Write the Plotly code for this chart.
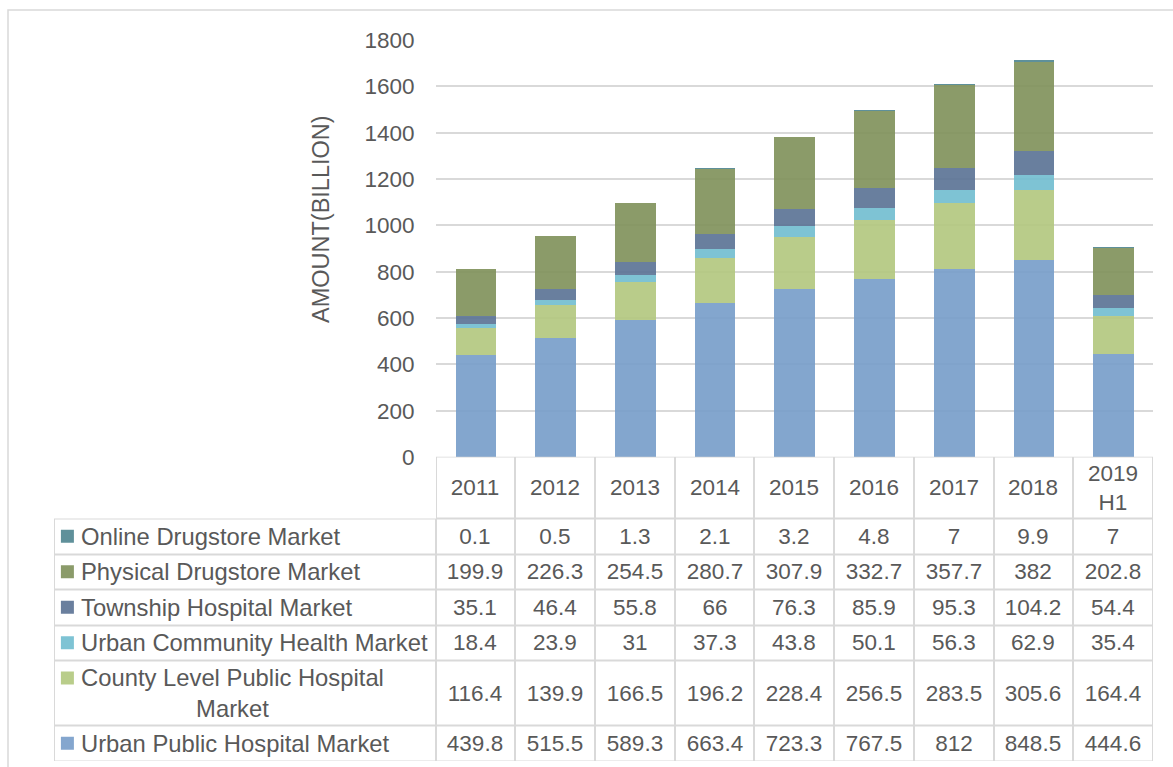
import numpy as np
import plotly.graph_objects as go

# data (billion)
years = ["2011", "2012", "2013", "2014", "2015", "2016", "2017", "2018", "2019 H1"]
year_labels = ["2011", "2012", "2013", "2014", "2015", "2016", "2017", "2018", "2019<br>H1"]

urban_public = [439.8, 515.5, 589.3, 663.4, 723.3, 767.5, 812, 848.5, 444.6]
county_public = [116.4, 139.9, 166.5, 196.2, 228.4, 256.5, 283.5, 305.6, 164.4]
urban_community = [18.4, 23.9, 31, 37.3, 43.8, 50.1, 56.3, 62.9, 35.4]
township = [35.1, 46.4, 55.8, 66, 76.3, 85.9, 95.3, 104.2, 54.4]
physical_drugstore = [199.9, 226.3, 254.5, 280.7, 307.9, 332.7, 357.7, 382, 202.8]
online_drugstore = [0.1, 0.5, 1.3, 2.1, 3.2, 4.8, 7, 9.9, 7]

# stacking order, bottom to top
series = [
    ("Urban Public Hospital Market", urban_public, "#84A6CE", "rgba(118,156,201,0.9)"),
    ("County Level Public Hospital<br>Market", county_public, "#B9CD8A", "rgba(177,199,125,0.9)"),
    ("Urban Community Health Market", urban_community, "#7EC3D4", "rgba(112,188,207,0.9)"),
    ("Township Hospital Market", township, "#6A7F9E", "rgba(89,113,147,0.9)"),
    ("Physical Drugstore Market", physical_drugstore, "#8B9B6A", "rgba(126,144,89,0.9)"),
    ("Online Drugstore Market", online_drugstore, "#5F909A", "rgba(77,132,143,0.9)"),
]

W, H = 1173, 767
TXT = "#595959"
GRID = "#D9D9D9"
FONT = "Liberation Sans, Arial, sans-serif"

fig = go.Figure()

for name, vals, _, fill in series:
    fig.add_trace(go.Bar(
        x=years, y=vals, name=name, width=0.51,
        marker=dict(color=fill, line=dict(width=0)),
        hoverinfo="skip", showlegend=False,
    ))

# ---- data table drawn on its own axes (x2/y2) ----
row_h = [35.5, 65, 35.5, 35.5, 35.5, 35.5, 62]  # bottom -> top, last is header
y_edges = np.concatenate([[0], np.cumsum(row_h)])
y_mid = (y_edges[:-1] + y_edges[1:]) / 2

col_w = (1153 - 435.5) / 9
leg_w = (435.5 - 54) / col_w
x_edges = np.concatenate([[-0.5 - leg_w], np.arange(len(years) + 1) - 0.5])


def fmt(v):
    return f"{v:g}"


z = []
txt = []
for _, vals, _, _ in series:
    z.append([0] * (len(years) + 1))
    txt.append([""] + [fmt(v) for v in vals])
z.append([None] + [0] * len(years))
txt.append([""] + year_labels)

for gap, col in [(0, GRID), (2, "white")]:
    fig.add_trace(go.Heatmap(
        x=x_edges, y=y_edges, z=z,
        text=txt if gap else None,
        texttemplate="%{text}" if gap else None,
        textfont=dict(size=22.5, color=TXT, family=FONT),
        colorscale=[[0, col], [1, col]], showscale=False,
        xgap=gap, ygap=gap, hoverinfo="skip",
        xaxis="x2", yaxis="y2",
    ))

# legend keys + names in the first column
line_off = 15
key_y = [y_mid[i] + (line_off if "<br>" in s[0] else 0) for i, s in enumerate(series)]
fig.add_trace(go.Scatter(
    x=[-0.5 - leg_w + 13.4 / col_w] * len(series), y=key_y, mode="markers",
    marker=dict(symbol="square", size=13, color=[s[2] for s in series], line=dict(width=0)),
    hoverinfo="skip", showlegend=False, xaxis="x2", yaxis="y2",
))

annotations = []
for i, s in enumerate(series):
    annotations.append(dict(
        x=-0.5 - leg_w + 25 / col_w, y=y_mid[i], xref="x2", yref="y2",
        text=s[0], showarrow=False, xanchor="left", yanchor="middle", align="center",
        font=dict(size=23.8, color=TXT, family=FONT),
    ))

annotations.append(dict(
    x=321 / W, y=1 - 219 / H, xref="paper", yref="paper",
    xanchor="center", yanchor="middle",
    text="AMOUNT(BILLION)", textangle=-90, showarrow=False,
    font=dict(size=23.5, color=TXT, family=FONT),
))

tab_top = 1 - 456.5 / H
tab_bot = tab_top - y_edges[-1] / H

fig.update_layout(
    width=W, height=H,
    margin=dict(l=0, r=0, t=0, b=0, autoexpand=False),
    paper_bgcolor="white", plot_bgcolor="rgba(0,0,0,0)",
    barmode="stack", bargap=0,
    font=dict(family=FONT, color=TXT),
    xaxis=dict(domain=[435.5 / W, 1153 / W], range=[-0.5, 8.5], type="category", automargin=False,
               showticklabels=False, showgrid=False, zeroline=False, showline=False, fixedrange=True),
    yaxis=dict(domain=[1 - 457 / H, 1 - 40 / H], range=[0, 1800], dtick=200, automargin=False,
               showgrid=True, gridcolor=GRID, gridwidth=1.5, zeroline=False, showline=False,
               ticks="", ticklabelstandoff=20, tickfont=dict(size=22.5, color=TXT, family=FONT)),
    xaxis2=dict(domain=[54 / W, 1153 / W], range=[x_edges[0], x_edges[-1]], anchor="y2",
                visible=False, fixedrange=True, automargin=False),
    yaxis2=dict(domain=[tab_bot, tab_top], range=[0, y_edges[-1]], anchor="x2",
                visible=False, fixedrange=True, automargin=False),
    annotations=annotations,
    shapes=[dict(type="rect", xref="paper", yref="paper",
                 x0=8 / W, x1=1.05, y0=-0.05, y1=1 - 10 / H,
                 line=dict(color=GRID, width=1.5), fillcolor="rgba(0,0,0,0)", layer="below")],
)

page_fix = (
    "document.documentElement.style.margin='0';"
    "document.documentElement.style.overflow='hidden';"
    "document.body.style.margin='0';"
    "document.body.style.padding='0';"
    "document.body.style.overflow='hidden';"
)
fig.write_html("out.html", config={"displayModeBar": False}, post_script=page_fix)
